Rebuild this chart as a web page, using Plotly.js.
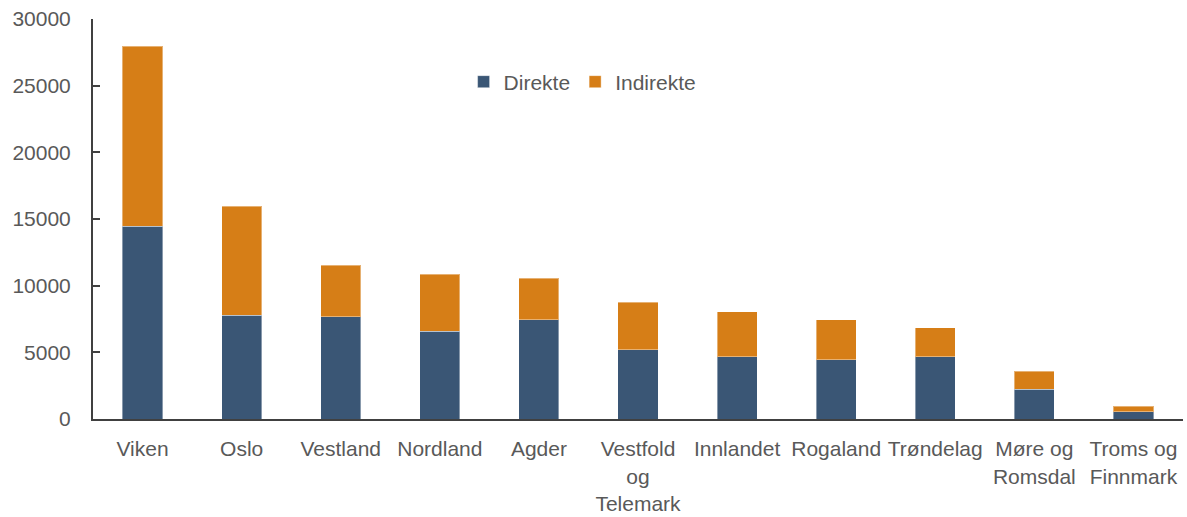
<!DOCTYPE html>
<html>
<head>
<meta charset="utf-8">
<script src="https://cdn.plot.ly/plotly-3.0.1.min.js"></script>
<style>html,body{margin:0;padding:0;background:#fff}#chart{width:1187px;height:517px}</style>
</head>
<body>
<div id="chart"></div>
<script>
const categories = ["Viken", "Oslo", "Vestland", "Nordland", "Agder", "Vestfold<br>og<br>Telemark", "Innlandet", "Rogaland", "Trøndelag", "Møre og<br>Romsdal", "Troms og<br>Finnmark"];
const direkte = [14450, 7780, 7680, 6580, 7430, 5200, 4680, 4430, 4680, 2230, 530];
const indirekte = [13500, 8170, 3850, 4270, 3120, 3550, 3350, 3000, 2150, 1350, 430];
const yTicks = [0, 5000, 10000, 15000, 20000, 25000, 30000];

const font = {family: "Liberation Sans, Arial, sans-serif", size: 21, color: "#595959"};

const traces = [
  {type: "bar", name: "Direkte", x: categories, y: direkte,
   marker: {color: "#3A5675", line: {color: "rgba(255,255,255,0.4)", width: 1}}},
  {type: "bar", name: "Indirekte", x: categories, y: indirekte,
   marker: {color: "#D67E17", line: {color: "rgba(255,255,255,0.4)", width: 1}}}
];

const layout = {
  width: 1187, height: 517,
  barmode: "stack", bargap: 0.595,
  margin: {l: 93, r: 4, t: 19, b: 98},
  paper_bgcolor: "#fff", plot_bgcolor: "#fff",
  font: font,
  showlegend: true,
  legend: {orientation: "h", x: 0.34, y: 0.8425, xanchor: "left", yanchor: "middle",
           font: font, bgcolor: "rgba(0,0,0,0)", traceorder: "normal", itemwidth: 30},
  xaxis: {showline: true, linecolor: "#404040", linewidth: 2, ticks: "", showgrid: false,
          tickfont: font, ticklabelstandoff: 10, fixedrange: true},
  yaxis: {range: [0, 30000], tickvals: yTicks, ticktext: yTicks.map(String),
          showline: true, linecolor: "#404040", linewidth: 2, ticks: "inside", ticklen: 7,
          tickcolor: "#404040", tickwidth: 2, showgrid: false, zeroline: false,
          tickfont: font, ticklabelstandoff: 16, fixedrange: true}
};

Plotly.newPlot("chart", traces, layout, {staticPlot: true, displayModeBar: false});
</script>
</body>
</html>
